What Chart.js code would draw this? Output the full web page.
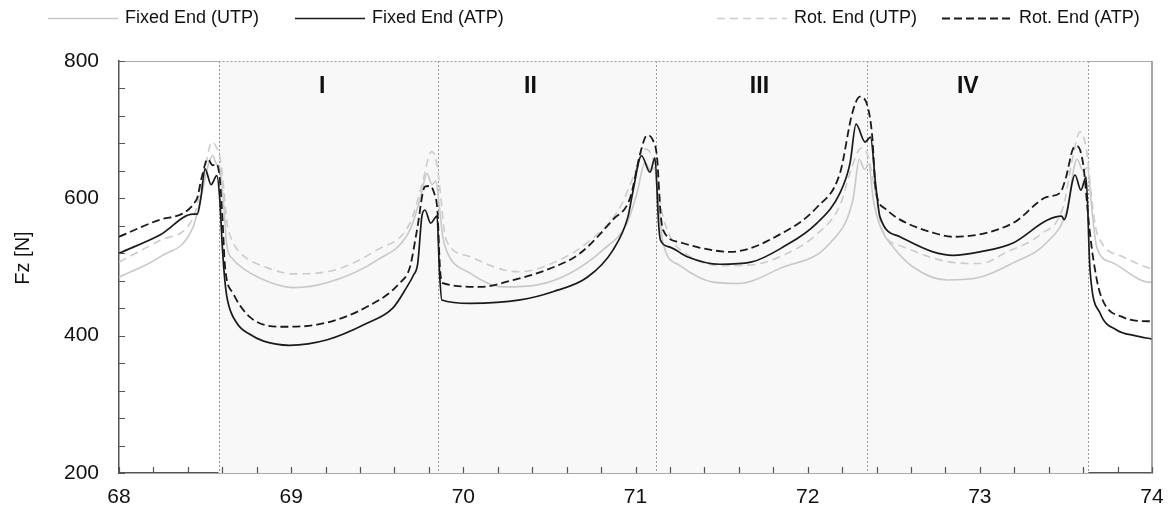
<!DOCTYPE html>
<html>

<head>
    <meta charset="utf-8" />
    <title>Fz</title>
    <style>
        body { margin: 0; background: #fff; }
        #wrap { width: 1168px; height: 510px; }
    </style>
</head>

<body>

    <div id="wrap">
        <canvas id="chart" width="1168" height="510"></canvas>
    </div>

    <script src="https://cdn.jsdelivr.net/npm/chart.js"></script>
    <script type="text/javascript">

        // values (x = position, y = Fz in N)
        var fixedUtpX = [68.00, 68.24, 68.43, 68.48, 68.52, 68.545, 68.565, 68.585, 68.605, 68.627, 68.66, 68.72, 68.918, 69.011, 69.208, 69.499, 69.69, 69.75, 69.789, 69.818, 69.84, 69.86, 69.88, 69.905, 70.039, 70.23, 70.43, 70.62, 70.811, 70.951, 71.009, 71.055, 71.09, 71.11, 71.13, 71.16, 71.258, 71.45, 71.6, 71.839, 72.13, 72.263, 72.30, 72.33, 72.355, 72.38, 72.42, 72.5, 72.612, 72.809, 73.001, 73.193, 73.39, 73.506, 73.564, 73.60, 73.625, 73.65, 73.68, 73.773, 73.988, 74.0];
        var fixedUtpY = [485, 515, 558, 605, 650, 662, 650, 645, 600, 530, 512, 498, 474, 470, 477, 510, 554, 600, 636, 620, 625, 590, 545, 522, 491, 471, 474, 491, 525, 564, 608, 652, 640, 645, 600, 535, 502, 478, 476, 498, 535, 598, 657, 642, 650, 600, 560, 528, 500, 481, 485, 506, 536, 583, 657, 640, 645, 585, 528, 506, 478, 478];

        var fixedAtpX = [68.00, 68.24, 68.43, 68.455, 68.475, 68.50, 68.535, 68.568, 68.585, 68.60, 68.615, 68.63, 68.685, 68.76, 68.84, 68.99, 69.21, 69.44, 69.59, 69.67, 69.71, 69.735, 69.76, 69.777, 69.81, 69.847, 69.862, 69.875, 70.04, 70.33, 70.52, 70.72, 70.87, 70.956, 70.985, 71.035, 71.084, 71.113, 71.135, 71.145, 71.20, 71.30, 71.49, 71.67, 71.857, 72.054, 72.188, 72.246, 72.281, 72.333, 72.365, 72.395, 72.42, 72.536, 72.728, 72.844, 73.00, 73.193, 73.39, 73.475, 73.49, 73.553, 73.587, 73.617, 73.64, 73.698, 73.797, 73.90, 74.0];
        var fixedAtpY = [520, 547, 577, 577, 600, 643, 620, 633, 600, 530, 480, 452, 418, 402, 392, 386, 394, 418, 440, 470, 488, 505, 575, 583, 564, 574, 490, 452, 447, 452, 464, 485, 525, 573, 610, 662, 638, 659, 560, 539, 529, 515, 504, 507, 529, 564, 608, 651, 708, 682, 689, 620, 573, 544, 522, 517, 522, 535, 568, 574, 569, 634, 612, 631, 496, 433, 408, 400, 395];

        var rotUtpX = [68.00, 68.24, 68.43, 68.49, 68.54, 68.57, 68.59, 68.61, 68.627, 68.66, 68.72, 68.85, 69.011, 69.208, 69.499, 69.69, 69.76, 69.815, 69.845, 69.87, 69.888, 69.905, 70.039, 70.23, 70.329, 70.521, 70.718, 70.91, 71.0, 71.05, 71.09, 71.12, 71.15, 71.2, 71.3, 71.5, 71.67, 71.857, 72.054, 72.188, 72.25, 72.31, 72.35, 72.385, 72.437, 72.55, 72.809, 73.0, 73.158, 73.349, 73.483, 73.54, 73.582, 73.62, 73.65, 73.68, 73.831, 73.977, 74.0];
        var rotUtpY = [507, 539, 571, 630, 682, 672, 655, 610, 565, 537, 517, 500, 490, 493, 525, 564, 620, 668, 652, 600, 555, 537, 515, 496, 493, 506, 535, 587, 640, 672, 665, 640, 585, 545, 518, 502, 503, 517, 548, 590, 640, 673, 662, 620, 552, 530, 508, 505, 522, 547, 587, 660, 697, 670, 600, 550, 515, 499, 498];

        var rotAtpX = [68.00, 68.24, 68.45, 68.48, 68.515, 68.545, 68.565, 68.585, 68.60, 68.616, 68.662, 68.761, 68.953, 69.15, 69.44, 69.632, 69.69, 69.731, 69.777, 69.806, 69.83, 69.85, 69.864, 69.876, 70.097, 70.288, 70.486, 70.678, 70.869, 70.968, 71.03, 71.067, 71.10, 71.125, 71.145, 71.16, 71.258, 71.375, 71.55, 71.857, 72.054, 72.188, 72.26, 72.304, 72.35, 72.375, 72.395, 72.45, 72.536, 72.728, 72.844, 73.193, 73.39, 73.466, 73.50, 73.541, 73.564, 73.60, 73.635, 73.66, 73.698, 73.831, 73.977, 74.0];
        var rotAtpY = [544, 569, 598, 630, 657, 648, 650, 630, 575, 500, 462, 427, 413, 416, 442, 477, 500, 554, 617, 618, 608, 580, 500, 477, 471, 481, 496, 520, 569, 600, 668, 692, 685, 660, 580, 554, 536, 528, 522, 550, 587, 637, 725, 748, 732, 690, 612, 585, 569, 550, 544, 564, 602, 608, 630, 672, 676, 650, 560, 510, 462, 427, 421, 421];

        var seriesNames = ['Fixed End (UTP)', 'Fixed End (ATP)', 'Rot. End (UTP)', 'Rot. End (ATP)'];

        // zones I-IV
        var zoneEdges = [68.578, 69.855, 71.118, 72.342, 73.630];
        var zoneNames = ['I', 'II', 'III', 'IV'];
        var zoneLabelX = [69.18, 70.39, 71.72, 72.93];
        var zoneLabelY = 762;

        var xTicks = [68, 69, 70, 71, 72, 73, 74];
        var yTicks = [200, 400, 600, 800];

        var fontFamily = "'Liberation Sans', Arial, sans-serif";

        function toPoints(xs, ys) {
            return xs.map(function (v, i) { return { x: v, y: ys[i] }; });
        }

        var decoPlugin = {
            id: 'deco',
            beforeDatasetsDraw: function (chart) {
                var ctx = chart.ctx, sx = chart.scales.x, a = chart.chartArea;
                var x0 = sx.getPixelForValue(zoneEdges[0]);
                var x1 = sx.getPixelForValue(zoneEdges[zoneEdges.length - 1]);
                ctx.save();
                ctx.fillStyle = '#f8f8f8';
                ctx.fillRect(x0, a.top, x1 - x0, a.bottom - a.top);

                ctx.strokeStyle = '#999';
                ctx.lineWidth = 1;
                ctx.setLineDash([2, 2]);
                zoneEdges.forEach(function (v) {
                    var px = Math.round(sx.getPixelForValue(v)) + 0.5;
                    ctx.beginPath();
                    ctx.moveTo(px, a.top);
                    ctx.lineTo(px, a.bottom);
                    ctx.stroke();
                });
                ctx.beginPath();
                ctx.moveTo(x0, a.top + 0.5);
                ctx.lineTo(x1, a.top + 0.5);
                ctx.stroke();

                ctx.setLineDash([]);
                ctx.strokeStyle = '#aaa';
                ctx.beginPath();
                ctx.moveTo(a.left, a.top + 0.5);
                ctx.lineTo(x0, a.top + 0.5);
                ctx.moveTo(x1, a.top + 0.5);
                ctx.lineTo(a.right, a.top + 0.5);
                ctx.stroke();
                ctx.restore();
            },
            afterDatasetsDraw: function (chart) {
                var ctx = chart.ctx, sx = chart.scales.x, sy = chart.scales.y, a = chart.chartArea;
                ctx.save();
                // right border
                ctx.strokeStyle = '#888';
                ctx.lineWidth = 1.5;
                ctx.beginPath();
                ctx.moveTo(a.right, a.top);
                ctx.lineTo(a.right, a.bottom);
                ctx.stroke();

                // inward ticks
                ctx.strokeStyle = '#555';
                ctx.lineWidth = 1.2;
                ctx.beginPath();
                for (var i = 0; i <= 30; i++) {
                    var px = Math.round(sx.getPixelForValue(68 + i * 0.2)) + 0.5;
                    ctx.moveTo(px, a.bottom);
                    ctx.lineTo(px, a.bottom - 6);
                }
                for (var j = 0; j <= 15; j++) {
                    var py = Math.round(sy.getPixelForValue(200 + j * 40)) + 0.5;
                    ctx.moveTo(a.left, py);
                    ctx.lineTo(a.left + 6, py);
                }
                ctx.stroke();

                // zone labels
                ctx.fillStyle = '#111';
                ctx.font = 'bold 23px ' + fontFamily;
                ctx.textAlign = 'center';
                ctx.textBaseline = 'middle';
                zoneNames.forEach(function (n, k) {
                    ctx.fillText(n, sx.getPixelForValue(zoneLabelX[k]), sy.getPixelForValue(zoneLabelY));
                });
                ctx.restore();
            },
            afterDraw: function (chart) {
                var ctx = chart.ctx;
                var legendX = [48, 295, 717, 942];
                ctx.save();
                ctx.font = '18px ' + fontFamily;
                ctx.textBaseline = 'middle';
                ctx.textAlign = 'left';
                chart.data.datasets.forEach(function (ds, k) {
                    ctx.strokeStyle = ds.borderColor;
                    ctx.lineWidth = ds.borderWidth;
                    ctx.setLineDash(ds.borderDash || []);
                    ctx.beginPath();
                    ctx.moveTo(legendX[k], 18.5);
                    ctx.lineTo(legendX[k] + 70, 18.5);
                    ctx.stroke();
                    ctx.fillStyle = '#111';
                    ctx.fillText(ds.label, legendX[k] + 77, 18);
                });
                ctx.setLineDash([]);

                // y axis title
                ctx.translate(23, 258);
                ctx.rotate(-Math.PI / 2);
                ctx.textAlign = 'center';
                ctx.font = '20px ' + fontFamily;
                ctx.fillText('Fz [N]', 0, 0);
                ctx.restore();
            }
        };

        var ctx = document.getElementById('chart').getContext('2d');

        var myChart = new Chart(ctx, {
            type: 'line',
            data: {
                datasets: [{
                    label: seriesNames[0],
                    data: toPoints(fixedUtpX, fixedUtpY),
                    borderColor: '#c8c8c8',
                    borderWidth: 1.6,
                    order: 3
                }, {
                    label: seriesNames[1],
                    data: toPoints(fixedAtpX, fixedAtpY),
                    borderColor: '#1a1a1a',
                    borderWidth: 1.7,
                    order: 0
                }, {
                    label: seriesNames[2],
                    data: toPoints(rotUtpX, rotUtpY),
                    borderColor: '#cccccc',
                    borderWidth: 1.6,
                    borderDash: [8, 5],
                    order: 2
                }, {
                    label: seriesNames[3],
                    data: toPoints(rotAtpX, rotAtpY),
                    borderColor: '#1a1a1a',
                    borderWidth: 1.8,
                    borderDash: [8, 4],
                    order: 1
                }]
            },
            options: {
                responsive: false,
                animation: false,
                devicePixelRatio: 1,
                layout: { padding: { top: 61, right: 16, left: 0, bottom: 0 } },
                plugins: {
                    legend: { display: false },
                    tooltip: { enabled: false }
                },
                elements: {
                    point: { radius: 0 },
                    line: { cubicInterpolationMode: 'monotone', fill: false }
                },
                scales: {
                    x: {
                        type: 'linear',
                        min: 68,
                        max: 74,
                        afterBuildTicks: function (scale) {
                            scale.ticks = xTicks.map(function (v) { return { value: v }; });
                        },
                        afterFit: function (scale) {
                            scale.height = 37;
                            scale.paddingLeft = 0;
                            scale.paddingRight = 0;
                        },
                        grid: { display: false, drawTicks: false },
                        border: { display: true, color: '#555', width: 1.5 },
                        ticks: { padding: 12, color: '#111', maxRotation: 0, font: { size: 21, family: fontFamily } }
                    },
                    y: {
                        type: 'linear',
                        min: 200,
                        max: 800,
                        afterBuildTicks: function (scale) {
                            scale.ticks = yTicks.map(function (v) { return { value: v }; });
                        },
                        afterFit: function (scale) {
                            scale.width = 119;
                            scale.paddingTop = 0;
                            scale.paddingBottom = 0;
                        },
                        grid: { display: false, drawTicks: false },
                        border: { display: true, color: '#555', width: 1.5 },
                        ticks: { padding: 20, color: '#111', font: { size: 21, family: fontFamily } }
                    }
                }
            },
            plugins: [decoPlugin]
        });
    </script>

</body>

</html>
